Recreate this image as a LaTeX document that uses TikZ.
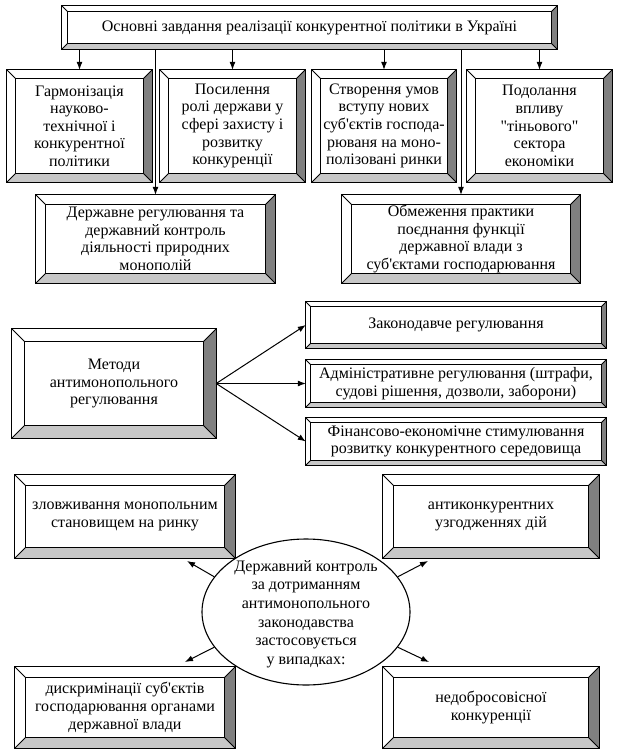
\documentclass[tikz,border=0pt]{standalone}
\usepackage{fontspec}
\setmainfont{Liberation Serif}[Ligatures=TeXOff]
\usetikzlibrary{calc,arrows.meta,shapes.geometric}
\tikzset{
  bx/.style={draw=none, inner sep=0pt, align=center, font=\fontsize{16}{17.6}\selectfont},
  bevR/.style={fill=black!50},
  bevB/.style={fill=black!22},
  bline/.style={draw=black, line width=1.1pt},
  iline/.style={draw=black, line width=0.8pt},
  arr/.style={draw=black, line width=1pt, -{Latex[length=8pt,width=6pt]}},
  ell/.style={draw=black, line width=1.1pt, ellipse, inner sep=0pt},
  etext/.style={align=center, inner sep=0pt, font=\fontsize{16}{18.6}\selectfont}
}
\newcommand\bevbox[7]{%
  \node[bx, minimum width={(#4-#2)*1pt}, minimum height={(#5-#3)*1pt}] (#1) at ({(#2+#4)/2},{(#3+#5)/2}) {#7};
  \coordinate (#1-a) at ($(#1.north west)+(#6pt,-#6pt)$);
  \coordinate (#1-b) at ($(#1.north east)+(-#6pt,-#6pt)$);
  \coordinate (#1-c) at ($(#1.south east)+(-#6pt,#6pt)$);
  \coordinate (#1-d) at ($(#1.south west)+(#6pt,#6pt)$);
  \fill[bevR] (#1.north east) -- (#1.south east) -- (#1-c) -- (#1-b) -- cycle;
  \fill[bevB] (#1.south west) -- (#1.south east) -- (#1-c) -- (#1-d) -- cycle;
  \draw[iline] (#1-a) rectangle (#1-c);
  \draw[iline] (#1.north west) -- (#1-a) (#1.north east) -- (#1-b) (#1.south east) -- (#1-c) (#1.south west) -- (#1-d);
  \draw[bline] (#1.north west) rectangle (#1.south east);
}
\begin{document}
\begin{tikzpicture}[x=1pt,y=-1pt]
\useasboundingbox[fill=white] (0,0) rectangle (619,752);
% top
\bevbox{top}{62}{6}{557}{49}{6}{Основні завдання реалізації конкурентної політики в Україні}
% row 2
\bevbox{b1}{7}{70}{152}{182}{9}{Гармонізація\\науково-\\технічної і\\конкурентної\\політики}
\bevbox{b2}{160}{70}{305}{182}{9}{Посилення\\ролі держави у\\сфері захисту і\\розвитку\\конкуренції}
\bevbox{b3}{312}{70}{456}{182}{9}{Створення умов\\вступу нових\\суб'єктів господа-\\рюваня на моно-\\полізовані ринки}
\bevbox{b4}{467}{70}{612}{182}{9}{Подолання\\впливу\\"тіньового"\\сектора\\економіки}
% row 3
\bevbox{c1}{36}{195}{275}{283}{10}{Державне регулювання та\\державний контроль\\діяльності природних\\монополій}
\bevbox{c2}{342}{195}{580}{283}{10}{Обмеження практики\\поєднання функції\\державної влади з\\суб'єктами господарювання}
% arrows top
\foreach \n in {b1,b2,b3,b4,c1,c2}{
  \draw[arr] (top.south -| \n.north) -- (\n.north);
}
% methods
\bevbox{m}{12}{329}{216}{438}{13}{Методи\\антимонопольного\\регулювання}
\bevbox{m1}{306}{302}{606}{348}{5}{Законодавче регулювання}
\bevbox{m2}{306}{360}{606}{407}{5}{Адміністративне регулювання (штрафи,\\судові рішення, дозволи, заборони)}
\bevbox{m3}{306}{418}{606}{465}{5}{Фінансово-економічне стимулювання\\розвитку конкурентного середовища}
\foreach \n in {m1,m2,m3}{
  \draw[arr] (m.east) -- (\n.west);
}
% lower section
\bevbox{d1}{15}{475}{235}{558}{11}{зловживання монопольним\\становищем на ринку}
\bevbox{d2}{383}{475}{599}{558}{11}{антиконкурентних\\узгодженнях дій}
\bevbox{d3}{15}{667}{235}{748}{11}{дискримінації суб'єктів\\господарювання органами\\державної влади}
\bevbox{d4}{383}{667}{599}{748}{11}{недобросовісної\\конкуренції}
\node[ell, minimum width=208pt, minimum height=146pt] (e) at (306,612) {};
\node[etext] (et) at (306,614) {Державний контроль\\за дотриманням\\антимонопольного\\законодавства\\застосовується\\у випадках:};
\coordinate (t1) at (187,561);
\coordinate (t2) at (428,561);
\coordinate (t3) at (185,662);
\coordinate (t4) at (429,662);
\draw[arr] (e.159) -- (t1);
\draw[arr] (e.21) -- (t2);
\draw[arr] (e.201) -- (t3);
\draw[arr] (e.339) -- (t4);
\end{tikzpicture}
\end{document}
